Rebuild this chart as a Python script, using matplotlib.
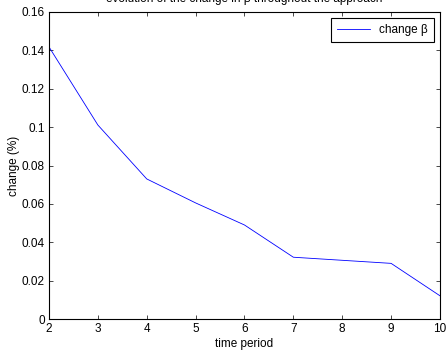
import matplotlib
matplotlib.use("Agg")
import matplotlib.pyplot as plt

# values
periods = [2, 3, 4, 5, 6, 7, 8, 9, 10]
change_beta = [0.1418, 0.1011, 0.0730, 0.0605, 0.0490, 0.0322, 0.0306, 0.0290, 0.0121]
yticks = [0, 0.02, 0.04, 0.06, 0.08, 0.1, 0.12, 0.14, 0.16]
ytick_labels = ["0", "0.02", "0.04", "0.06", "0.08", "0.1", "0.12", "0.14", "0.16"]

plt.rcParams['font.family'] = ['Liberation Sans', 'DejaVu Sans']

fig = plt.figure(figsize=(4.47, 3.58), dpi=100)
ax = fig.add_axes([0.1096, 0.1089, 0.8747, 0.8576])

ax.plot(periods, change_beta, color=(0, 0, 1), linewidth=0.6, label="change β")

ax.set_xlim(2, 10)
ax.set_ylim(0, 0.16)
ax.set_xticks(periods)
ax.set_yticks(yticks)
ax.set_yticklabels(ytick_labels)
ax.tick_params(direction='in', top=True, right=True, labelsize=8.5, length=3, width=0.5, pad=3)
for s in ax.spines.values():
    s.set_linewidth(0.8)

ax.set_xlabel("time period", fontsize=8.5, labelpad=2)
ax.set_ylabel("change (%)", fontsize=8.5, labelpad=1.5)
# title sits partly above the canvas, as in the reference
ax.set_title("evolution of the change in β throughout the approach", fontsize=8.5, pad=7)

leg = ax.legend(loc='upper right', fontsize=8.5, fancybox=False, framealpha=1,
                edgecolor='black', handlelength=2.8, borderaxespad=0.5, borderpad=0.5)
leg.get_frame().set_linewidth(0.8)

fig.savefig("out.png", dpi=100)
